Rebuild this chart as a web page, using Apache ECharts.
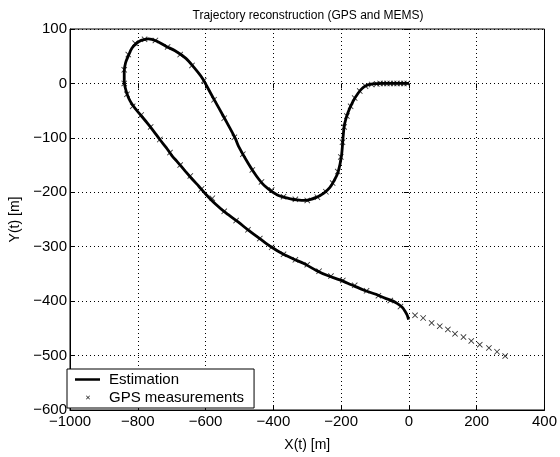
<!DOCTYPE html>
<html>
<head>
<meta charset="utf-8">
<script src="https://cdn.jsdelivr.net/npm/echarts@6/dist/echarts.min.js"></script>
<style>
  html, body { margin: 0; padding: 0; background: #fff; }
  #chart { width: 560px; height: 457px; }
</style>
</head>
<body>
<div id="chart"></div>
<script>
// estimated trajectory, in order
var estX = [0, -40, -80, -107, -122, -136, -150, -165, -180, -190, -194, -199, -209, -222, -233, -250, -272, -305, -330, -349, -388, -426, -450, -474, -503, -513, -537, -561, -585, -610, -635, -658, -690, -716, -745, -769, -790, -803, -817, -827, -836, -840, -840, -837, -830, -822, -808, -793, -773, -754, -735, -716, -700, -682, -660, -639, -620, -600, -570, -540, -503, -475, -440, -407, -370, -339, -310, -272, -240, -204, -170, -136, -100, -69, -50, -35, -20, -11, -5, -1];
var estY = [0, 0, 0, -1, -3, -8, -18, -33, -54, -75, -97, -133, -163, -180, -191, -201, -209, -215, -214, -212, -205, -188, -170, -147, -115, -100, -72, -45, -18, 10, 30, 46, 60, 68, 78, 82, 79, 74, 65, 52, 38, 22, 5, -8, -22, -33, -46, -57, -72, -87, -103, -118, -132, -145, -161, -176, -189, -203, -222, -238, -255, -269, -285, -300, -314, -323, -331, -344, -353, -361, -370, -379, -387, -395, -399, -404, -411, -419, -426, -434];

// GPS measurements (crosses), along the path and after it
var gpsX = [-5, -15, -25, -35, -45, -55, -65, -75, -85, -95, -110, -128, -145, -160, -172, -183, -191, -196, -201, -210, -225, -245, -270, -300, -335, -370, -405, -435, -462, -490, -515, -545, -575, -605, -640, -675, -712, -748, -780, -808, -828, -840, -840, -832, -815, -790, -762, -735, -705, -675, -645, -612, -580, -545, -510, -475, -440, -405, -370, -335, -300, -265, -230, -195, -160, -125, -90, -55, -25, 18, 42, 67, 91, 115, 136, 161, 184, 209, 236, 260, 284];
var gpsY = [0, 0, 0, 0, 0, 0, 0, 0, 0, -1, -2, -5, -14, -27, -42, -60, -80, -108, -135, -162, -183, -199, -209, -215, -213, -208, -196, -181, -159, -130, -99, -64, -30, 5, 33, 53, 67, 79, 81, 74, 53, 25, 0, -20, -42, -58, -80, -103, -127, -150, -170, -194, -211, -235, -252, -269, -285, -301, -314, -324, -333, -345, -354, -362, -371, -381, -390, -399, -410, -426, -431, -440, -446, -452, -460, -466, -473, -480, -486, -493, -501];

var title = 'Trajectory reconstruction (GPS and MEMS)';
var xName = 'X(t) [m]';
var yName = 'Y(t) [m]';

var estData = [];
for (var i = 0; i < estX.length; i++) {
    estData.push([estX[i], estY[i]]);
}
var gpsData = [];
for (var j = 0; j < gpsX.length; j++) {
    gpsData.push([gpsX[j], gpsY[j]]);
}

var font = 'Liberation Sans';
function minus(v) {
    return String(v).replace('-', '\u2212');
}

var myChart = echarts.init(document.getElementById('chart'));

var crossPath = 'path://M0,1 L1,0 L5,4 L9,0 L10,1 L6,5 L10,9 L9,10 L5,6 L1,10 L0,9 L4,5 Z';
// legend icons: 30x12 box, the empty corners keep the box size
var lineIcon = 'path://M0,0 L0,0 Z M1,4.7 L26,4.7 L26,7.3 L1,7.3 Z M30,12 L30,12 Z';
var crossIcon = 'path://M0,0 L0,0 Z M12,4.6 L12.6,4 L14,5.4 L15.4,4 L16,4.6 L14.6,6 L16,7.4 L15.4,8 L14,6.6 L12.6,8 L12,7.4 L13.4,6 Z M30,12 L30,12 Z';

var tickStyle = { inside: true, length: 5, lineStyle: { color: '#000', width: 1 } };
var gridLine = { show: true, lineStyle: { color: '#000', type: [1, 3], width: 1 } };

var option = {
    backgroundColor: '#fff',
    animation: false,
    title: {
        text: title,
        left: 303,
        textAlign: 'center',
        top: 5,
        textStyle: { fontFamily: font, fontSize: 12, fontWeight: 'normal', color: '#000' }
    },
    grid: {
        left: 62,
        right: 15,
        top: 29,
        bottom: 45,
        show: true,
        borderColor: '#000',
        borderWidth: 1,
        backgroundColor: '#fff'
    },
    legend: {
        left: 67,
        top: 369,
        orient: 'vertical',
        backgroundColor: '#fff',
        borderColor: '#000',
        borderWidth: 1,
        borderRadius: 0,
        padding: [3, 10, 3, 7],
        itemGap: 3,
        itemWidth: 30,
        itemHeight: 12,
        textStyle: { fontFamily: font, fontSize: 15, color: '#000' },
        data: [
            { name: 'Estimation', icon: lineIcon },
            { name: 'GPS measurements', icon: crossIcon }
        ]
    },
    xAxis: [{
        type: 'value',
        min: -1000,
        max: 400,
        interval: 200,
        name: xName,
        nameLocation: 'middle',
        nameGap: 28,
        nameTextStyle: { fontFamily: font, fontSize: 14, color: '#000' },
        axisLine: { onZero: false, lineStyle: { color: '#000' } },
        axisTick: tickStyle,
        axisLabel: { fontFamily: font, fontSize: 15, color: '#000', margin: 4, formatter: minus },
        splitLine: gridLine
    }, {
        type: 'value',
        position: 'top',
        min: -1000,
        max: 400,
        interval: 200,
        axisLine: { show: false },
        axisTick: tickStyle,
        axisLabel: { show: false },
        splitLine: { show: false }
    }],
    yAxis: [{
        type: 'value',
        min: -600,
        max: 100,
        interval: 100,
        name: yName,
        nameLocation: 'middle',
        nameGap: 48,
        nameTextStyle: { fontFamily: font, fontSize: 14, color: '#000' },
        axisLine: { show: true, onZero: false, lineStyle: { color: '#000' } },
        axisTick: tickStyle,
        axisLabel: { fontFamily: font, fontSize: 15, color: '#000', margin: 3, formatter: minus },
        splitLine: gridLine
    }, {
        type: 'value',
        position: 'right',
        min: -600,
        max: 100,
        interval: 100,
        axisLine: { show: false },
        axisTick: tickStyle,
        axisLabel: { show: false },
        splitLine: { show: false }
    }],
    series: [{
        name: 'Estimation',
        type: 'line',
        data: estData,
        symbol: 'none',
        smooth: 0.3,
        lineStyle: { color: '#000', width: 2.8 },
        itemStyle: { color: '#000' },
        z: 3
    }, {
        name: 'GPS measurements',
        type: 'scatter',
        data: gpsData,
        symbol: crossPath,
        symbolSize: 6,
        itemStyle: { color: '#000' },
        z: 4
    }]
};

myChart.setOption(option);
</script>
</body>
</html>
